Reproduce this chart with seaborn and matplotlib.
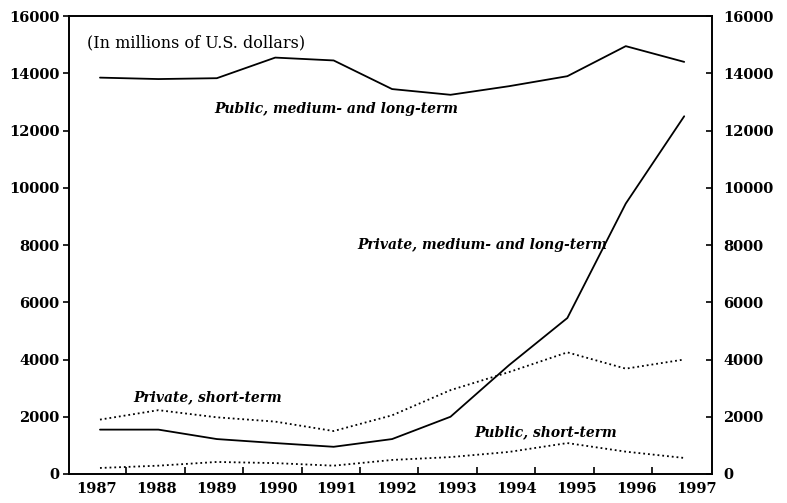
import numpy as np
import pandas as pd
import matplotlib
matplotlib.use("Agg")
import matplotlib.pyplot as plt
import seaborn as sns

# values (millions of U.S. dollars)
years = [1987, 1988, 1989, 1990, 1991, 1992, 1993, 1994, 1995, 1996, 1997]
public_mlt = [13850, 13800, 13830, 14550, 14450, 13450, 13250, 13550, 13900, 14950, 14400]
private_mlt = [1550, 1550, 1220, 1080, 950, 1220, 2000, 3800, 5450, 9450, 12500]
private_st = [1900, 2230, 1980, 1830, 1500, 2050, 2930, 3560, 4250, 3680, 4000]
public_st = [210, 290, 420, 380, 290, 490, 590, 770, 1080, 780, 560]

series_names = ["Public, medium- and long-term", "Private, medium- and long-term",
                "Private, short-term", "Public, short-term"]
series_values = [public_mlt, private_mlt, private_st, public_st]
series_styles = ["-", "-", ":", ":"]

df = pd.DataFrame({
    "year": np.tile(years, len(series_names)),
    "value": np.concatenate(series_values),
    "series": np.repeat(series_names, len(years)),
})

sns.set_style("ticks")
plt.rcParams["font.family"] = ["DejaVu Serif"]
plt.rcParams["text.color"] = "black"
plt.rcParams["xtick.color"] = "black"
plt.rcParams["ytick.color"] = "black"
plt.rcParams["axes.edgecolor"] = "black"

fig = plt.figure(figsize=(7.87, 5.03), dpi=100)
ax = fig.add_axes([0.0877, 0.0577, 0.8173, 0.9103])

for name, style in zip(series_names, series_styles):
    sns.lineplot(data=df[df["series"] == name], x="year", y="value", ax=ax,
                 color="black", linewidth=1.3, linestyle=style)

ax.set_xlim(1986.47, 1997.48)
ax.set_ylim(0, 16000)
ax.set_xlabel("")
ax.set_ylabel("")

# boundary tick marks (no labels) plus year labels (no marks)
ax.set_xticks([y + 0.45 for y in years[:-1]])
ax.set_xticklabels([])
ax.tick_params(axis="x", which="major", direction="in", length=5, width=1.2)
label_pos = [y + 0.027 * (y - 1987) - 0.05 for y in years]
ax.set_xticks(label_pos, minor=True)
ax.set_xticklabels([str(y) for y in years], minor=True,
                   fontsize=10.5, fontweight="bold")
ax.tick_params(axis="x", which="minor", length=0, pad=6)

yticks = np.arange(0, 16001, 2000)
ax.set_yticks(yticks)
ax.set_yticklabels([str(v) for v in yticks], fontsize=10.5, fontweight="bold")
ax.tick_params(axis="y", direction="out", length=4, width=1.2, pad=3)

ax2 = ax.twinx()
ax2.set_ylim(0, 16000)
ax2.set_yticks(yticks)
ax2.set_yticklabels([str(v) for v in yticks], fontsize=10.5, fontweight="bold")
ax2.tick_params(axis="y", direction="in", length=4, width=1.2, pad=8)

for a in (ax, ax2):
    for s in a.spines.values():
        s.set_linewidth(1.2)
        s.set_visible(True)

ax.text(1986.78, 15050, "(In millions of U.S. dollars)", fontsize=11.5, va="center")
ax.text(1988.95, 12750, "Public, medium- and long-term", fontsize=10,
        style="italic", fontweight="bold", va="center")
ax.text(1991.4, 8000, "Private, medium- and long-term", fontsize=10,
        style="italic", fontweight="bold", va="center")
ax.text(1987.57, 2680, "Private, short-term", fontsize=10,
        style="italic", fontweight="bold", va="center")
ax.text(1993.4, 1470, "Public, short-term", fontsize=10,
        style="italic", fontweight="bold", va="center")

plt.savefig("out.png", dpi=100)
plt.close()
